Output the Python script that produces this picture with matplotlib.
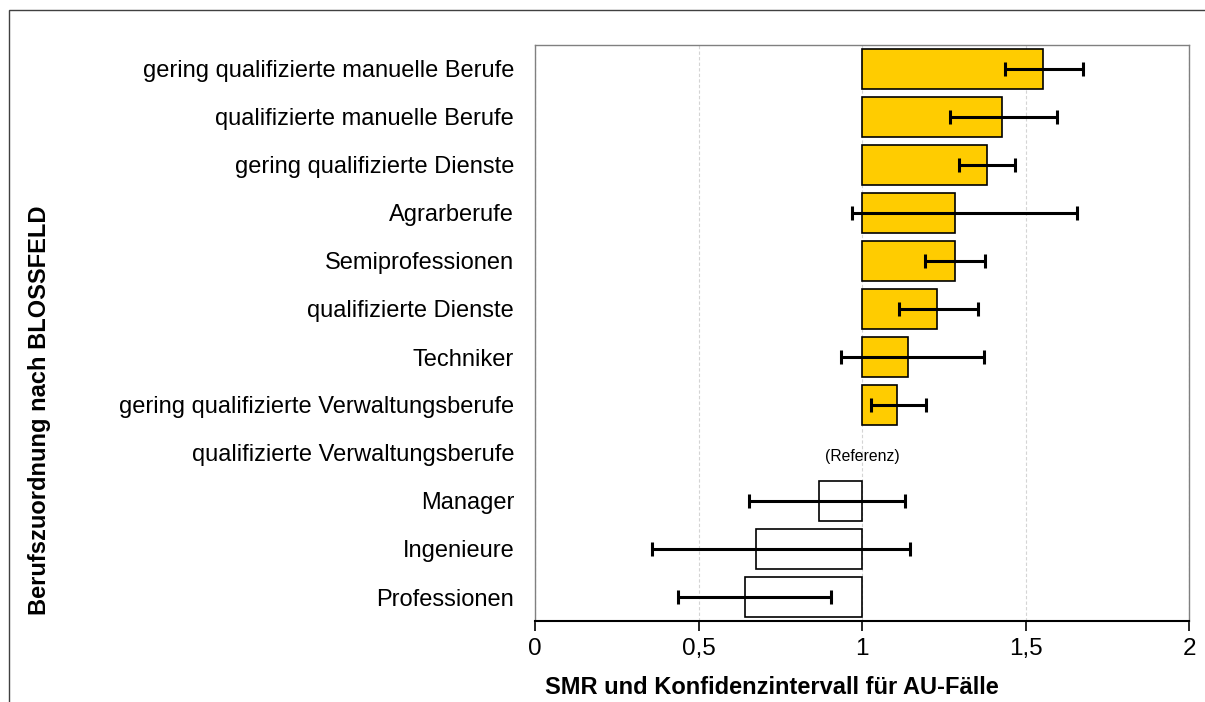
import matplotlib
matplotlib.use("Agg")
import matplotlib.pyplot as plt
from matplotlib.patches import Rectangle
import numpy as np

plt.rcParams['font.family'] = ['Liberation Sans', 'DejaVu Sans']

categories = [
    "gering qualifizierte manuelle Berufe",
    "qualifizierte manuelle Berufe",
    "gering qualifizierte Dienste",
    "Agrarberufe",
    "Semiprofessionen",
    "qualifizierte Dienste",
    "Techniker",
    "gering qualifizierte Verwaltungsberufe",
    "qualifizierte Verwaltungsberufe",
    "Manager",
    "Ingenieure",
    "Professionen",
]
smr = [1.553, 1.428, 1.381, 1.283, 1.283, 1.230, 1.140, 1.107, 1.0, 0.869, 0.675, 0.641]
ci_low = [1.436, 1.270, 1.298, 0.969, 1.194, 1.112, 0.936, 1.026, None, 0.653, 0.358, 0.437]
ci_high = [1.675, 1.597, 1.467, 1.659, 1.376, 1.354, 1.372, 1.195, None, 1.130, 1.146, 0.905]
reference_value = 1.0
x_ticks = [0, 0.5, 1, 1.5, 2]
x_tick_labels = ["0", "0,5", "1", "1,5", "2"]

fig = plt.figure(figsize=(12.05, 7.02), dpi=100)
ax = fig.add_axes([535/1205, 1-621/702, (1189-535)/1205, (621-45)/702])

ypos = np.arange(len(categories))
for i, (cat, v) in enumerate(zip(categories, smr)):
    if v == reference_value:
        continue
    color = "#FFCC00" if v > reference_value else "white"
    ax.barh(i, v - reference_value, left=reference_value, height=0.83,
            color=color, edgecolor="black", linewidth=1.2, zorder=2)

for i in range(len(categories)):
    if ci_low[i] is None:
        continue
    c = (ci_low[i] + ci_high[i]) / 2
    ax.errorbar(c, i, xerr=[[c - ci_low[i]], [ci_high[i] - c]], fmt='none',
                ecolor="black", elinewidth=2.2, capsize=5, capthick=2.2, zorder=3)

ref_idx = categories.index("qualifizierte Verwaltungsberufe")
ax.text(reference_value, ref_idx + 0.08, "(Referenz)", ha="center", va="center", fontsize=11.3)

ax.set_xlim(0, 2)
ax.set_ylim(len(categories) - 0.5, -0.5)
ax.set_yticks(ypos)
ax.set_yticklabels(categories, fontsize=17)
ax.tick_params(axis='y', length=0, pad=15)
ax.set_xticks(x_ticks)
ax.set_xticklabels(x_tick_labels, fontsize=17.5)
ax.tick_params(axis='x', direction='out', length=7, width=1.2, pad=5)

ax.grid(axis='x', color="#d4d4d4", linestyle=(0, (3, 2)), linewidth=0.8, zorder=0)
ax.set_axisbelow(True)
for s in ["left", "top", "right"]:
    ax.spines[s].set_color("#808080")
    ax.spines[s].set_linewidth(1.0)
ax.spines["bottom"].set_color("black")
ax.spines["bottom"].set_linewidth(1.5)

fig.text(772/1205, 1-688/702, "SMR und Konfidenzintervall für AU-Fälle",
         ha="center", va="center", fontsize=17, fontweight="bold")
fig.text(40/1205, 1-410/702, "Berufszuordnung nach BLOSSFELD", rotation=90,
         ha="center", va="center", fontsize=17, fontweight="bold")

# outer frame
fig.patches.append(Rectangle((9/1205, -0.05), 1.2, 1-10/702 + 0.05,
                             transform=fig.transFigure, fill=False,
                             edgecolor="#404040", linewidth=1.0))

fig.savefig("out.png", dpi=100)
